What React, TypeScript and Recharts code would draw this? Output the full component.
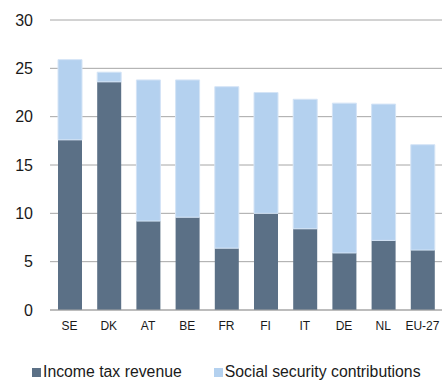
import React from "react";
import { BarChart, Bar, XAxis, YAxis, CartesianGrid, Legend } from "recharts";

const categories = ["SE", "DK", "AT", "BE", "FR", "FI", "IT", "DE", "NL", "EU-27"];
const incomeTax = [17.6, 23.6, 9.2, 9.6, 6.4, 10.0, 8.4, 5.9, 7.2, 6.2];
const socialSecurity = [8.3, 1.0, 14.6, 14.2, 16.7, 12.5, 13.4, 15.5, 14.1, 10.9];
const yTicks = [0, 5, 10, 15, 20, 25, 30];
const seriesNames = ["Income tax revenue", "Social security contributions"];

const data = categories.map((c, i) => ({
  name: c,
  income: incomeTax[i],
  social: socialSecurity[i],
}));

const DARK = "#5B7086";
const LIGHT = "#B4D1EF";
const FONT = "'Liberation Sans', Arial, sans-serif";

const renderLegend = (props: any) => {
  const { payload } = props;
  return (
    <div
      style={{
        display: "flex",
        alignItems: "center",
        height: 20,
        marginTop: 21,
        paddingLeft: 24,
        fontFamily: FONT,
        fontSize: 15.8,
        color: "#1a1a1a",
      }}
    >
      {payload.map((entry: any, i: number) => (
        <div
          key={i}
          style={{ display: "flex", alignItems: "center", marginRight: i === 0 ? 32 : 0 }}
        >
          <span
            style={{
              display: "inline-block",
              width: 9,
              height: 9,
              background: entry.color,
              marginRight: 2,
            }}
          />
          <span style={{ whiteSpace: "nowrap" }}>{entry.value}</span>
        </div>
      ))}
    </div>
  );
};

export default function App() {
  return (
    <div style={{ position: "absolute", left: 0, top: 0, width: 442, height: 381 }}>
      <BarChart
        width={442}
        height={381}
        data={data}
        margin={{ top: 20, right: 0, bottom: 0, left: 8 }}
        barSize={24}
      >
        <CartesianGrid vertical={false} stroke="#A6A6A6" strokeWidth={1} />
        <XAxis
          dataKey="name"
          height={31}
          tickSize={0}
          tickMargin={11}
          axisLine={{ stroke: "#A6A6A6" }}
          tick={{ fontSize: 12, fill: "#1a1a1a", fontFamily: FONT }}
          interval={0}
        />
        <YAxis
          width={42}
          domain={[0, 30]}
          ticks={yTicks}
          tickSize={0}
          tickMargin={17}
          axisLine={false}
          tick={{ fontSize: 16, fill: "#1a1a1a", fontFamily: FONT }}
        />
        <Legend verticalAlign="bottom" height={40} content={renderLegend} />
        <Bar
          dataKey="income"
          name={seriesNames[0]}
          stackId="a"
          fill={DARK}
          isAnimationActive={false}
        />
        <Bar
          dataKey="social"
          name={seriesNames[1]}
          stackId="a"
          fill={LIGHT}
          stroke="#D4E4F6"
          strokeWidth={1}
          isAnimationActive={false}
        />
      </BarChart>
    </div>
  );
}
